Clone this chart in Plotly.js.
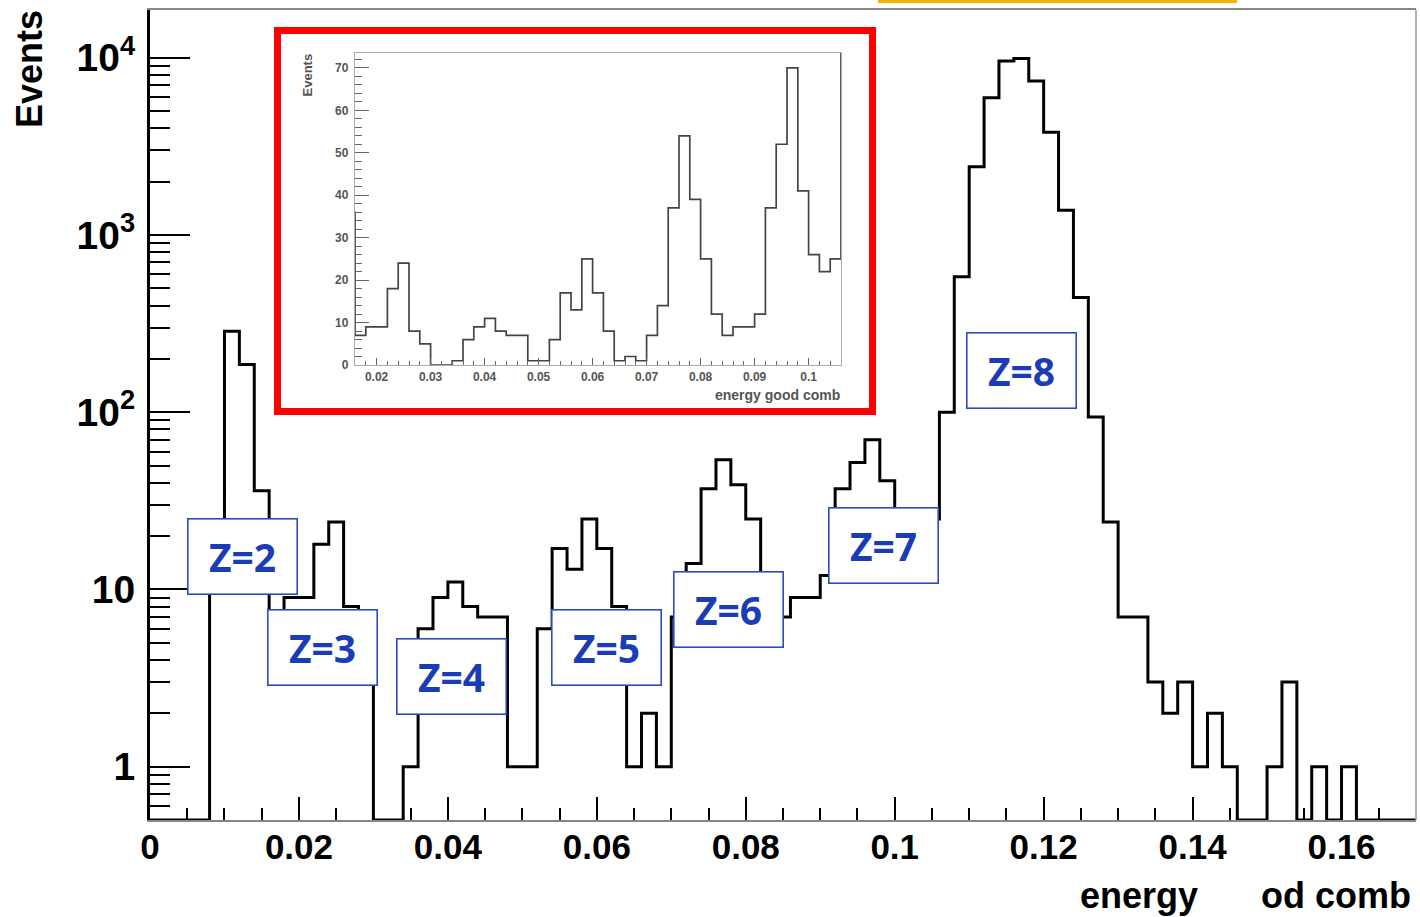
<!DOCTYPE html>
<html><head><meta charset="utf-8">
<script src="https://cdn.plot.ly/plotly-3.0.1.min.js"></script>
<style>html,body{margin:0;padding:0;background:#fff;}#chart{width:1420px;height:917px;}</style>
</head><body><div id="chart"></div>
<script>
// ---- data (histogram: bin width 0.002 starting at 0) ----
const binWidth = 0.002;
const binStart = 0;
const counts = [0,0,0,0,14,286,186,36,7,9,9,18,24,8,5,0,0,1,6,9,11,8,7,7,1,1,6,17,13,25,17,8,1,2,1,7,14,37,54,39,25,12,7,9,9,12,37,52,70,41,26,22,25,100,582,2430,5950,9600,9900,7400,3800,1380,444,94,24,7,7,3,2,3,1,2,1,0,0,1,3,0,1,0,1,0,0,0,0];
const zLabels = ['Z=2','Z=3','Z=4','Z=5','Z=6','Z=7','Z=8'];
const xTickVals = [0,0.02,0.04,0.06,0.08,0.1,0.12,0.14,0.16];
const yTickVals = [1,10,100,1000,10000];
const yTickText = ['1','10','10<sup>2</sup>','10<sup>3</sup>','10<sup>4</sup>'];
const insetXTickVals = [0.02,0.03,0.04,0.05,0.06,0.07,0.08,0.09,0.1];
const insetYTickVals = [0,10,20,30,40,50,60,70];

// ---- geometry helpers (pixel -> paper) ----
const W = 1420, H = 917, L = 150, R = 4, T = 10, B = 97;
const PW = W - L - R, PH = H - T - B;
const px = x => (x - L) / PW;
const py = y => (H - B - y) / PH;
const Y_MIN = 0.5, Y_MAX = 18600;

// step outline: left edges + closing right edge
const edges = counts.map((_, i) => binStart + i * binWidth);
edges.push(binStart + counts.length * binWidth);
const stepY = counts.concat([counts[counts.length - 1]]);
// empty bins are drawn on the lower frame edge of the log axis (as ROOT does)
const stepYLog = stepY.map(v => v > 0 ? v : Y_MIN);

const minorY = [];
for (let e = -1; e <= 4; e++) for (let d = 2; d <= 9; d++) {
  const v = d * Math.pow(10, e);
  if (v >= Y_MIN && v <= Y_MAX) minorY.push(v);
}

const mainTrace = {
  x: edges, y: stepYLog, type: 'scatter', mode: 'lines',
  line: {shape: 'hv', color: '#000', width: 3}, xaxis: 'x', yaxis: 'y', hoverinfo: 'skip'
};
const insetTrace = {
  x: edges, y: stepY, type: 'scatter', mode: 'lines',
  line: {shape: 'hv', color: '#444', width: 1.7}, xaxis: 'x2', yaxis: 'y2', hoverinfo: 'skip'
};

const FAM = 'Liberation Sans, Arial, sans-serif';
const axFont = {family: FAM, size: 35, color: '#000', weight: 'bold'};
const inFont = {family: FAM, size: 12, color: '#555', weight: 'bold'};

// Z label boxes (centre px)
const zBoxes = [[242,556],[322,647],[451,676],[606,647],[728,609],[883,545],[1021,370]];
const annotations = zLabels.map((t, i) => ({
  text: t, xref: 'paper', yref: 'paper', x: px(zBoxes[i][0]), y: py(zBoxes[i][1]),
  xanchor: 'center', yanchor: 'middle', showarrow: false,
  width: 108, height: 74, borderpad: 0, borderwidth: 1.6, bordercolor: '#2a4cc0', bgcolor: '#fff',
  font: {family: 'Noto Sans, Open Sans, sans-serif', size: 39, color: '#1a3db5', weight: 'bold'}
}));
annotations.push(
  {text: 'Events', xref: 'paper', yref: 'paper', x: px(29), y: py(8), xanchor: 'center', yanchor: 'top',
   textangle: -90, showarrow: false, font: {family: FAM, size: 36, color: '#000', weight: 'bold'}},
  {text: 'energy', xref: 'paper', yref: 'paper', x: px(1139), y: py(895), xanchor: 'center', yanchor: 'middle',
   showarrow: false, font: {family: FAM, size: 36, color: '#000', weight: 'bold'}},
  {text: 'od comb', xref: 'paper', yref: 'paper', x: px(1413), y: py(895), xanchor: 'right', yanchor: 'middle',
   showarrow: false, font: {family: FAM, size: 36, color: '#000', weight: 'bold'}},
  {text: 'Events', xref: 'paper', yref: 'paper', x: px(307), y: py(52), xanchor: 'center', yanchor: 'top',
   textangle: -90, showarrow: false, font: {family: FAM, size: 13, color: '#555', weight: 'bold'}},
  {text: 'energy good comb', xref: 'paper', yref: 'paper', x: px(842), y: py(395), xanchor: 'right', yanchor: 'middle',
   showarrow: false, font: {family: FAM, size: 14, color: '#555', weight: 'bold'}}
);

const shapes = [
  {type: 'rect', xref: 'paper', yref: 'paper', x0: px(277.5), x1: px(872.5), y0: py(411.5), y1: py(30.5),
   line: {color: '#ff0000', width: 7}, fillcolor: '#fff', layer: 'below'},
  {type: 'line', xref: 'paper', yref: 'paper', x0: 1, x1: 1, y0: 0, y1: 1, line: {color: '#999', width: 1.5}},
  {type: 'line', xref: 'paper', yref: 'paper', x0: px(878), x1: px(1237), y0: py(1.5), y1: py(1.5),
   line: {color: '#f6b400', width: 3}}
];

const layout = {
  width: W, height: H, margin: {l: L, r: R, t: T, b: B, pad: 0},
  paper_bgcolor: '#fff', plot_bgcolor: 'rgba(0,0,0,0)', showlegend: false,
  xaxis: {
    domain: [0, 1], range: [0, 0.17], tickmode: 'array', tickvals: xTickVals,
    ticks: 'inside', ticklen: 23, tickwidth: 2, tickcolor: '#000',
    minor: {tickmode: 'linear', tick0: 0, dtick: 0.005, ticks: 'inside', ticklen: 12, tickwidth: 2, tickcolor: '#000'},
    showline: true, linecolor: '#888', linewidth: 2, mirror: true,
    showgrid: false, zeroline: false, tickfont: axFont, ticklabelstandoff: -5
  },
  yaxis: {
    type: 'log', domain: [0, 1], range: [Math.log10(Y_MIN), Math.log10(Y_MAX)],
    tickmode: 'array', tickvals: yTickVals, ticktext: yTickText,
    ticks: 'inside', ticklen: 40, tickwidth: 2, tickcolor: '#000',
    minor: {tickmode: 'array', tickvals: minorY, ticks: 'inside', ticklen: 20, tickwidth: 2, tickcolor: '#000'},
    showline: true, linecolor: '#000', linewidth: 3, mirror: false,
    showgrid: false, zeroline: false, tickfont: Object.assign({}, axFont, {size: 39}), ticklabelstandoff: 4
  },
  xaxis2: {
    domain: [px(355), px(841)], anchor: 'y2', range: [0.016, 0.106], tickmode: 'array', tickvals: insetXTickVals,
    ticks: 'inside', ticklen: 7, tickwidth: 1, tickcolor: '#666',
    minor: {tickmode: 'linear', tick0: 0, dtick: 0.002, ticks: 'inside', ticklen: 4, tickwidth: 1, tickcolor: '#666'},
    showline: true, linecolor: '#aaa', linewidth: 1.2, mirror: true,
    showgrid: false, zeroline: false, tickfont: inFont, ticklabelstandoff: 0
  },
  yaxis2: {
    domain: [py(365), py(53)], anchor: 'x2', range: [0, 73.5], tickmode: 'array', tickvals: insetYTickVals,
    ticks: 'inside', ticklen: 14, tickwidth: 1, tickcolor: '#666',
    minor: {tickmode: 'linear', tick0: 0, dtick: 2, ticks: 'inside', ticklen: 7, tickwidth: 1, tickcolor: '#666'},
    showline: true, linecolor: '#aaa', linewidth: 1.2, mirror: true,
    showgrid: false, zeroline: false, tickfont: inFont, ticklabelstandoff: 3
  },
  annotations: annotations,
  shapes: shapes
};

Plotly.newPlot('chart', [mainTrace, insetTrace], layout, {staticPlot: true, displayModeBar: false});
</script>
</body></html>
